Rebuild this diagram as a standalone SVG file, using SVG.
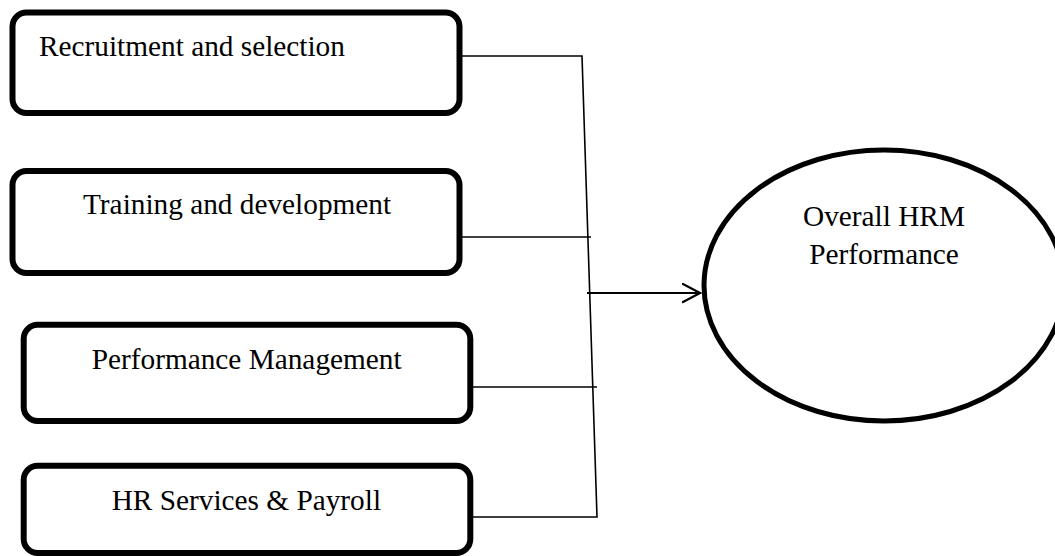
<svg xmlns="http://www.w3.org/2000/svg" width="1055" height="556" viewBox="0 0 1055 556">
<style>
.box{fill:#fff;stroke:#000;stroke-width:6}
.lbl{font-family:"Liberation Serif","Times New Roman",serif;font-size:29.3px;fill:#000}
.con{fill:none;stroke:#000;stroke-width:1.6}
.arr{fill:none;stroke:#000;stroke-width:2.2}
</style>
<defs>
<marker id="open" markerWidth="20" markerHeight="22" refX="18" refY="10" orient="auto" markerUnits="userSpaceOnUse">
<path d="M0,0.5 L18,10 L0,19.5" fill="none" stroke="#000" stroke-width="2.2"/>
</marker>
</defs>
<rect width="1055" height="556" fill="#fff"/>
<g id="connectors">
<polyline class="con" points="462,56 582,56 597,517 473,517"/>
<line class="con" x1="462" y1="237" x2="591" y2="237"/>
<line class="con" x1="473" y1="387" x2="597" y2="387"/>
<line class="arr" x1="587" y1="293" x2="700" y2="293" marker-end="url(#open)"/>
</g>
<g id="node-recruitment">
<rect class="box" x="12.5" y="12.5" width="447" height="100.5" rx="14"/>
<text class="lbl" x="39" y="56">Recruitment and selection</text>
</g>
<g id="node-training">
<rect class="box" x="12.5" y="171" width="447" height="102" rx="14"/>
<text class="lbl" x="83" y="214">Training and development</text>
</g>
<g id="node-performance">
<rect class="box" x="23.7" y="324.7" width="446.6" height="96.3" rx="14"/>
<text class="lbl" x="91.7" y="369">Performance Management</text>
</g>
<g id="node-hrservices">
<rect class="box" x="23.7" y="465.7" width="446.6" height="87.3" rx="14"/>
<text class="lbl" x="111.7" y="510">HR Services &amp; Payroll</text>
</g>
<g id="node-overall">
<ellipse cx="884" cy="285.5" rx="180" ry="135.5" fill="#fff" stroke="#000" stroke-width="5"/>
<text class="lbl" x="884" y="226" text-anchor="middle">Overall HRM</text>
<text class="lbl" x="884" y="264" text-anchor="middle">Performance</text>
</g>
</svg>
